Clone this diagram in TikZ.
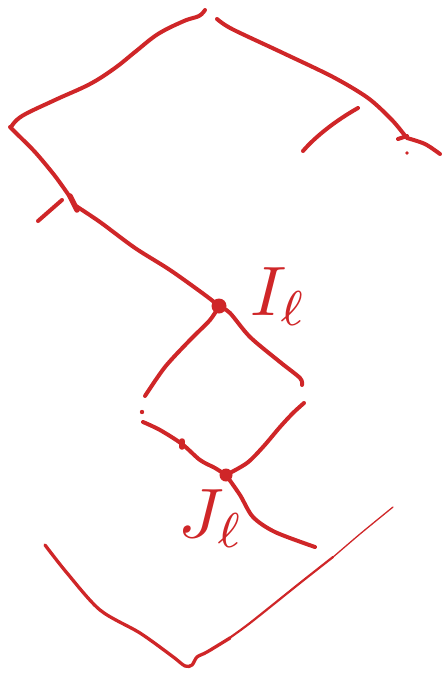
\documentclass[tikz,border=0pt]{standalone}
\usepackage{graphicx}
\definecolor{penred}{RGB}{207,38,40}
\begin{document}
\begin{tikzpicture}[x=1pt,y=-1pt,
  pen/.style={draw=penred,line width=4pt,line cap=round,line join=round},
  finepen/.style={draw=penred,line width=2.2pt,line cap=round,line join=round},
  blob/.style={circle,fill=penred,inner sep=0pt,minimum size=15pt},
  hand/.style={text=penred,inner sep=0pt}]
\useasboundingbox (0,0) rectangle (443,673);
% nodes
\node[blob] (I) at (219,306) {};
\node[blob,minimum size=13pt] (J) at (226,475) {};
\node[hand,anchor=base west] (Il) at (250,315) {\scalebox{7}{$I_{\ell}$}};
\node[hand,anchor=base west] (Jl) at (178,537) {\scalebox{7}{$J_{\ell}$}};
% top outline
\draw[pen] plot[smooth,tension=0.6] coordinates {(205,10) (199,16) (184,21) (158,34) (135,52) (115,68) (90,84) (55,100) (22,116) (11,127)};
\draw[pen] plot[smooth] coordinates {(10,127) (16,133) (35,152) (55,176) (70,197)};
\draw[pen,line width=5.5pt] (70,196) -- (77,210);
\draw[pen] plot[smooth] coordinates {(76,206) (100,222) (135,248) (170,270) (205,295) (I)};
\draw[pen] (38,221) -- (62,200);
\draw[pen] plot[smooth] coordinates {(217,19) (232,29) (283,53) (333,77) (368,98) (392,120) (406,137)};
\draw[pen] (398,139) -- (407,136);
\draw[pen] plot[smooth] coordinates {(407,138) (425,144) (440,154)};
\fill[penred] (407,153) circle (1.8);
\draw[pen] (358,108) .. controls (335,121) and (315,137) .. (303,151);
% middle diamond
\draw[pen] plot[smooth] coordinates {(I) (210,320) (190,340) (165,367) (145,396)};
\draw[pen] plot[smooth] coordinates {(I) (230,313) (250,337) (280,362) (300,378) (302,385)};
\fill[penred] (142,412) circle (2.2);
\draw[pen] plot[smooth] coordinates {(143,422) (160,430) (182,444) (200,460) (215,468) (J)};
\draw[pen,line width=5.5pt] (182,441) -- (182,447);
\draw[pen] plot[smooth] coordinates {(304,403) (293,413) (280,427) (263,447) (247,463) (J)};
\draw[pen] plot[smooth] coordinates {(J) (240,495) (253,517) (275,532) (315,547)};
% bottom curve
\draw[pen,line width=3.3pt] plot[smooth] coordinates {(45,545) (67,573) (100,610) (140,633) (172,656) (185,666) (192,665) (197,657) (207,652) (230,638)};
\draw[finepen] plot[smooth] coordinates {(228,639) (250,623) (300,583) (333,557)};
\draw[penred,line width=1.3pt,line cap=round] plot[smooth] coordinates {(332,558) (360,534) (393,507)};
\end{tikzpicture}
\end{document}
